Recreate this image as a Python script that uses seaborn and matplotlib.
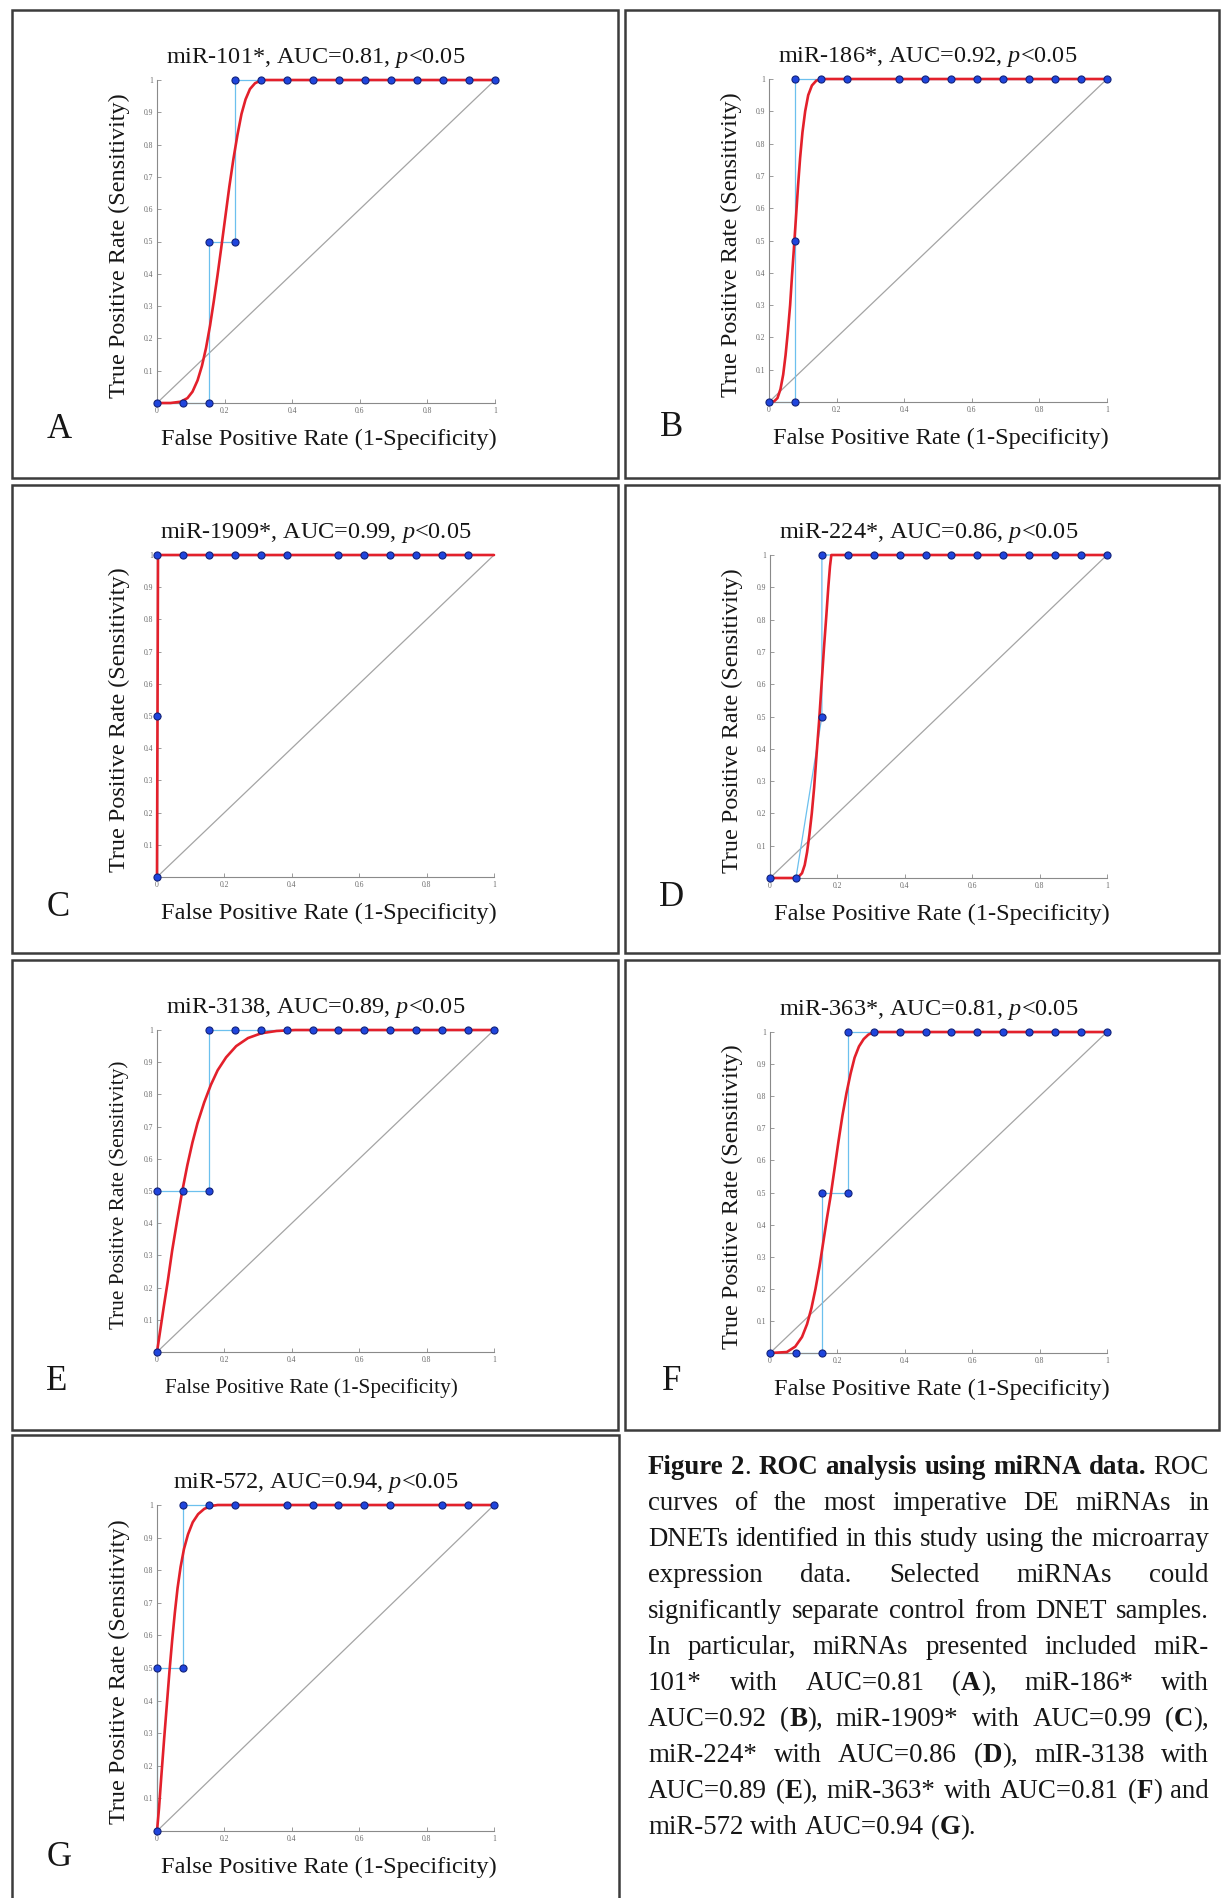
import matplotlib
matplotlib.use("Agg")
import matplotlib.pyplot as plt
import seaborn as sns
from matplotlib.patches import Rectangle

# ---------------- data ----------------
letters = ["A", "B", "C", "D", "E", "F", "G"]
mirnas = ["miR-101*", "miR-186*", "miR-1909*", "miR-224*", "miR-3138", "miR-363*", "miR-572"]
aucs = ["0.81", "0.92", "0.99", "0.86", "0.89", "0.81", "0.94"]
p_value = "0.05"
xtick_vals = [0, 0.2, 0.4, 0.6, 0.8, 1.0]
xtick_labels = ["0", "0.2", "0.4", "0.6", "0.8", "1"]
ytick_vals = [0.1, 0.2, 0.3, 0.4, 0.5, 0.6, 0.7, 0.8, 0.9, 1.0]
ytick_labels = ["0.1", "0.2", "0.3", "0.4", "0.5", "0.6", "0.7", "0.8", "0.9", "1"]
diag_x = [0, 1]
diag_y = [0, 1]

# empirical ROC points (FPR, TPR)
emp_x_A = [0, 0.077, 0.154, 0.154, 0.231, 0.231, 0.308, 0.385, 0.462, 0.538, 0.615, 0.692, 0.769, 0.846, 0.923, 1.0]
emp_y_A = [0, 0, 0, 0.5, 0.5, 1, 1, 1, 1, 1, 1, 1, 1, 1, 1, 1]
emp_x_B = [0, 0.077, 0.077, 0.077, 0.154, 0.231, 0.385, 0.462, 0.538, 0.615, 0.692, 0.769, 0.846, 0.923, 1.0]
emp_y_B = [0, 0, 0.5, 1, 1, 1, 1, 1, 1, 1, 1, 1, 1, 1, 1]
emp_x_C = [0, 0, 0, 0.077, 0.154, 0.231, 0.308, 0.385, 0.538, 0.615, 0.692, 0.769, 0.846, 0.923]
emp_y_C = [0, 0.5, 1, 1, 1, 1, 1, 1, 1, 1, 1, 1, 1, 1]
emp_x_D = [0, 0.077, 0.154, 0.154, 0.231, 0.308, 0.385, 0.462, 0.538, 0.615, 0.692, 0.769, 0.846, 0.923, 1.0]
emp_y_D = [0, 0, 0.5, 1, 1, 1, 1, 1, 1, 1, 1, 1, 1, 1, 1]
emp_x_E = [0, 0, 0.077, 0.154, 0.154, 0.231, 0.308, 0.385, 0.462, 0.538, 0.615, 0.692, 0.769, 0.846, 0.923, 1.0]
emp_y_E = [0, 0.5, 0.5, 0.5, 1, 1, 1, 1, 1, 1, 1, 1, 1, 1, 1, 1]
emp_x_F = [0, 0.077, 0.154, 0.154, 0.231, 0.231, 0.308, 0.385, 0.462, 0.538, 0.615, 0.692, 0.769, 0.846, 0.923, 1.0]
emp_y_F = [0, 0, 0, 0.5, 0.5, 1, 1, 1, 1, 1, 1, 1, 1, 1, 1, 1]
emp_x_G = [0, 0, 0.077, 0.077, 0.154, 0.231, 0.385, 0.462, 0.538, 0.615, 0.692, 0.846, 0.923, 1.0]
emp_y_G = [0, 0.5, 0.5, 1, 1, 1, 1, 1, 1, 1, 1, 1, 1, 1]

# fitted (smooth) ROC curves
fit_x_A = [0, 0.04, 0.07, 0.09, 0.105, 0.12, 0.133, 0.145, 0.157, 0.168, 0.179, 0.19, 0.202,
           0.214, 0.226, 0.238, 0.25, 0.262, 0.275, 0.29, 0.31, 1.0]
fit_y_A = [0, 0.0, 0.004, 0.015, 0.035, 0.07, 0.115, 0.17, 0.24, 0.315, 0.395, 0.48, 0.575,
           0.67, 0.755, 0.83, 0.895, 0.94, 0.972, 0.99, 1.0, 1.0]
fit_x_B = [0, 0.015, 0.025, 0.034, 0.042, 0.049, 0.056, 0.0625, 0.068, 0.074, 0.08, 0.086,
           0.092, 0.099, 0.107, 0.116, 0.127, 0.14, 0.155, 1.0]
fit_y_B = [0, 0.002, 0.012, 0.04, 0.085, 0.145, 0.22, 0.3, 0.39, 0.48, 0.575, 0.67, 0.755,
           0.835, 0.9, 0.95, 0.98, 0.995, 1.0, 1.0]
fit_x_C = [0, 0.003, 1.0]
fit_y_C = [0, 1.0, 1.0]
fit_x_D = [0, 0.07, 0.085, 0.095, 0.103, 0.11, 0.117, 0.124, 0.131, 0.138, 0.146, 0.153,
           0.16, 0.167, 0.173, 0.178, 0.182, 1.0]
fit_y_D = [0, 0.0, 0.004, 0.015, 0.04, 0.08, 0.135, 0.2, 0.28, 0.38, 0.49, 0.6, 0.71, 0.81,
           0.9, 0.965, 1.0, 1.0]
fit_x_E = [0, 0.01, 0.02, 0.032, 0.045, 0.06, 0.075, 0.09, 0.105, 0.12, 0.14, 0.16, 0.18,
           0.205, 0.235, 0.27, 0.31, 0.355, 0.41, 1.0]
fit_y_E = [0, 0.07, 0.14, 0.22, 0.315, 0.41, 0.5, 0.58, 0.65, 0.71, 0.775, 0.83, 0.875,
           0.915, 0.95, 0.975, 0.99, 0.997, 1.0, 1.0]
fit_x_F = [0, 0.05, 0.075, 0.095, 0.11, 0.123, 0.135, 0.147, 0.158, 0.169, 0.18, 0.191,
           0.203, 0.215, 0.227, 0.239, 0.251, 0.264, 0.278, 0.292, 0.31, 1.0]
fit_y_F = [0, 0.003, 0.02, 0.05, 0.09, 0.14, 0.2, 0.27, 0.345, 0.42, 0.49, 0.57, 0.658,
           0.74, 0.81, 0.87, 0.92, 0.955, 0.978, 0.992, 1.0, 1.0]
fit_x_G = [0, 0.006, 0.013, 0.021, 0.029, 0.037, 0.045, 0.053, 0.061, 0.07, 0.08, 0.092,
           0.106, 0.122, 0.14, 0.16, 0.18, 1.0]
fit_y_G = [0, 0.07, 0.17, 0.28, 0.385, 0.49, 0.585, 0.67, 0.745, 0.81, 0.865, 0.91, 0.947,
           0.972, 0.988, 0.997, 1.0, 1.0]

emp_x = [emp_x_A, emp_x_B, emp_x_C, emp_x_D, emp_x_E, emp_x_F, emp_x_G]
emp_y = [emp_y_A, emp_y_B, emp_y_C, emp_y_D, emp_y_E, emp_y_F, emp_y_G]
fit_x = [fit_x_A, fit_x_B, fit_x_C, fit_x_D, fit_x_E, fit_x_F, fit_x_G]
fit_y = [fit_y_A, fit_y_B, fit_y_C, fit_y_D, fit_y_E, fit_y_F, fit_y_G]

xlabel_text = "False Positive Rate (1-Specificity)"
ylabel_text = "True Positive Rate (Sensitivity)"

caption_lines = [
    "**Figure 2**. **ROC analysis using miRNA data.** ROC",
    "curves of the most imperative DE miRNAs in",
    "DNETs identified in this study using the microarray",
    "expression data. Selected miRNAs could",
    "significantly separate control from DNET samples.",
    "In particular, miRNAs presented included miR-",
    "101* with AUC=0.81 (**A**), miR-186* with",
    "AUC=0.92 (**B**), miR-1909* with AUC=0.99 (**C**),",
    "miR-224* with AUC=0.86 (**D**), mIR-3138 with",
    "AUC=0.89 (**E**), miR-363* with AUC=0.81 (**F**) and",
    "miR-572 with AUC=0.94 (**G**).",
]

# ---------------- layout (pixels) ----------------
W, H, DPI = 1221, 1898, 100
axes_px = [  # left, top, right, bottom
    (157, 80, 495, 403),
    (769, 79, 1107, 402),
    (157, 555, 494, 877),
    (770, 555, 1107, 878),
    (157, 1030, 494, 1352),
    (770, 1032, 1107, 1353),
    (157, 1505, 494, 1831),
]
letter_px = [(59, 430), (672, 428), (58, 907), (672, 898), (57, 1382), (672, 1382), (59, 1857)]
boxes_px = [  # left, top, right, bottom
    (12, 10, 618, 478), (625, 10, 1219, 478),
    (12, 485, 618, 953), (625, 485, 1219, 953),
    (12, 960, 618, 1430), (625, 960, 1219, 1430),
    (12, 1435, 619, 1899),
]

sns.set_theme(style="white")
plt.rcParams["font.family"] = ["Liberation Serif", "DejaVu Serif"]
plt.rcParams["mathtext.fontset"] = "custom"
plt.rcParams["mathtext.rm"] = "Liberation Serif"
plt.rcParams["mathtext.it"] = "Liberation Serif:italic"

fig = plt.figure(figsize=(W / DPI, H / DPI), dpi=DPI, facecolor="white")


def fx(px):
    return px / W


def fy(py):
    return 1 - py / H


# panel boxes
for (l, t, r, b) in boxes_px:
    fig.add_artist(Rectangle((fx(l), fy(b)), fx(r) - fx(l), fy(t) - fy(b),
                             transform=fig.transFigure, fill=False,
                             edgecolor="#3c3c3c", linewidth=1.8))

RED = "#e3202b"
BLUE_DOT = "#1f45dd"
STEP = "#6cc0ee"
TXT = "#161616"

for i in range(7):
    l, t, r, b = axes_px[i]
    ax = fig.add_axes([fx(l), fy(b), fx(r) - fx(l), fy(t) - fy(b)])
    ax.set_facecolor("white")
    sns.lineplot(x=diag_x, y=diag_y, ax=ax, color="#a4a4a4", linewidth=0.9,
                 sort=False, estimator=None, zorder=1)
    sns.lineplot(x=emp_x[i], y=emp_y[i], ax=ax, color=STEP, linewidth=0.9,
                 sort=False, estimator=None, zorder=2)
    sns.lineplot(x=fit_x[i], y=fit_y[i], ax=ax, color=RED, linewidth=1.9,
                 sort=False, estimator=None, zorder=3)
    sns.scatterplot(x=emp_x[i], y=emp_y[i], ax=ax, color=BLUE_DOT, s=26,
                    edgecolor="#13237a", linewidth=0.8, zorder=5, clip_on=False)
    for ln in ax.lines:
        ln.set_clip_on(False)
        ln.set_solid_joinstyle("round")
    ax.set_xlim(0, 1)
    ax.set_ylim(0, 1)
    sns.despine(ax=ax)
    for sp in ["left", "bottom"]:
        ax.spines[sp].set_color("#8a8a8a")
        ax.spines[sp].set_linewidth(0.8)
    ax.set_xticks(xtick_vals)
    ax.set_xticklabels(xtick_labels)
    ax.set_yticks(ytick_vals)
    ax.set_yticklabels(ytick_labels)
    ax.tick_params(axis="both", direction="in", length=3, width=0.6, color="#8a8a8a",
                   labelsize=5.5, labelcolor="#6a6a6a", pad=3)
    ax.tick_params(axis="both", which="both", bottom=True, left=True)
    ax.set_xlabel("")
    ax.set_ylabel("")

    cx = (l + r) / 2
    cy = (t + b) / 2
    fig.text(fx(cx - 10), fy(t - 22),
             f"{mirnas[i]}, AUC={aucs[i]}, $p$<{p_value}",
             ha="center", va="center", fontsize=17.5, color=TXT)
    small = (letters[i] == "E")
    fig.text(fx(cx - 14 if small else cx + 3), fy(b + 36), xlabel_text,
             ha="center", va="center", fontsize=15.3 if small else 17.6, color=TXT)
    fig.text(fx(l - 38), fy(cy + 4), ylabel_text, rotation=90,
             ha="center", va="center", fontsize=15.3 if small else 17.4, color=TXT)
    lx, ly = letter_px[i]
    fig.text(fx(lx), fy(ly), letters[i], ha="center", va="center",
             fontsize=25, color=TXT)

# ---------------- caption (justified) ----------------
cap_left, cap_right = 648, 1209
cap_top, cap_step = 1467, 36.1
renderer = fig.canvas.get_renderer()


def parse(line):
    segs = [(t, k % 2 == 1) for k, t in enumerate(line.split("**"))]
    words = [[]]
    for t, bold in segs:
        parts = t.split(" ")
        for j, p in enumerate(parts):
            if j > 0:
                words.append([])
            if p:
                words[-1].append((p, bold))
    return [w for w in words if w]


def measure(s, bold, size):
    t = fig.text(0, 0, s, fontsize=size, weight="bold" if bold else "normal")
    w = t.get_window_extent(renderer).width
    t.remove()
    return w


parsed = [parse(line) for line in caption_lines]

# pick the font size so that the widest justified line fits the column
base = 17.0
sp0 = measure("x x", False, base) - measure("xx", False, base)
nat = []
for words in parsed[:-1]:
    tot = sum(measure(p, b, base) for w in words for p, b in w)
    nat.append(tot + sp0 * (len(words) - 1))
CAP_SIZE = base * (cap_right - cap_left) / max(nat) * 0.995

space_w = measure("x x", False, CAP_SIZE) - measure("xx", False, CAP_SIZE)

for li, words in enumerate(parsed):
    widths = [[measure(p, b, CAP_SIZE) for p, b in w] for w in words]
    total = sum(sum(ws) for ws in widths)
    last = (li == len(parsed) - 1)
    if last or len(words) < 2:
        gap = space_w
    else:
        gap = (cap_right - cap_left - total) / (len(words) - 1)
    x = cap_left
    y = cap_top + li * cap_step
    for w, ws in zip(words, widths):
        xx = x
        for (p, b), pw in zip(w, ws):
            fig.text(fx(xx), fy(y), p, fontsize=CAP_SIZE,
                     weight="bold" if b else "normal", ha="left", va="center",
                     color=TXT)
            xx += pw
        x += sum(ws) + gap

fig.savefig("out.png", dpi=DPI, facecolor="white")
